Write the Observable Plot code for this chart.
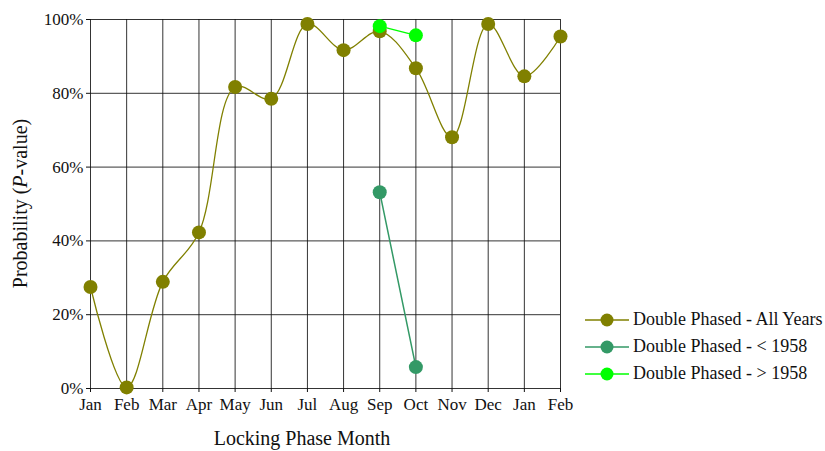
<!DOCTYPE html>
<html>
<head>
<meta charset="utf-8">
<script src="https://cdn.jsdelivr.net/npm/d3@7"></script>
<script src="https://cdn.jsdelivr.net/npm/@observablehq/plot@0.6"></script>
<style>
  html, body { margin: 0; padding: 0; background: #fff; }
  #wrap { position: relative; width: 825px; height: 451px; font-family: "Liberation Serif", "DejaVu Serif", serif; }
  #legend { position: absolute; left: 585px; top: 306px; font-size: 18px; color: #111; }
  .row { display: flex; align-items: center; height: 27px; }
  .row svg { margin-right: 4px; }
  #ylab { position: absolute; left: 20px; top: 192px; transform: translate(-50%, 0) rotate(-90deg); transform-origin: center; white-space: nowrap; font-size: 20px; color: #111; }
  #xlab { position: absolute; left: 302px; top: 427px; transform: translateX(-50%); font-size: 20px; color: #111; white-space: nowrap; }
</style>
</head>
<body>
<div id="wrap"></div>
<script>
// Locking-phase months (Jan..Feb, wrapping past December)
const months = ["Jan","Feb","Mar","Apr","May","Jun","Jul","Aug","Sep","Oct","Nov","Dec","Jan","Feb"];

// Double phased, all years (probability, %)
const allYears = [27.5, 0.3, 28.9, 42.3, 81.7, 78.5, 98.8, 91.7, 96.8, 86.8, 68.1, 98.8, 84.6, 95.4];

// Double phased, before 1958 (Sep, Oct)
const before1958Idx = [8, 9];
const before1958 = [53.2, 5.8];

// Double phased, after 1958 (Sep, Oct)
const after1958Idx = [8, 9];
const after1958 = [98.2, 95.7];

const yTicks = [0, 20, 40, 60, 80, 100];

const colors = { all: "#808000", before: "#339966", after: "#00ff00" };

const allData = allYears.map((v, i) => ({ i, v }));
const beforeData = before1958.map((v, k) => ({ i: before1958Idx[k], v }));
const afterData = after1958.map((v, k) => ({ i: after1958Idx[k], v }));

const chart = Plot.plot({
  width: 825,
  height: 451,
  marginLeft: 90,
  marginRight: 265,
  marginTop: 19,
  marginBottom: 63,
  style: { fontFamily: "Liberation Serif, DejaVu Serif, serif", fontSize: "17px", color: "#111", background: "transparent" },
  x: { domain: [0, months.length - 1], label: null },
  y: { domain: [0, 100], label: null },
  marks: [
    Plot.gridX(d3.range(months.length), { x: d => d, stroke: "#111", strokeOpacity: 0.85, strokeWidth: 1 }),
    Plot.gridY(yTicks, { y: d => d, stroke: "#111", strokeOpacity: 0.85, strokeWidth: 1 }),
    Plot.axisX({ ticks: d3.range(months.length), tickFormat: i => months[i], tickSize: 4, tickPadding: 5, label: null, fontSize: 17 }),
    Plot.axisY({ ticks: yTicks, tickFormat: d => d + "%", tickSize: 4, tickPadding: 3, label: null, fontSize: 17 }),
    Plot.lineY(allData, { x: "i", y: "v", stroke: colors.all, strokeWidth: 1.3, curve: "catmull-rom" }),
    Plot.dot(allData, { x: "i", y: "v", r: 7, fill: colors.all }),
    Plot.lineY(beforeData, { x: "i", y: "v", stroke: colors.before, strokeWidth: 1.5 }),
    Plot.dot(beforeData, { x: "i", y: "v", r: 7, fill: colors.before }),
    Plot.lineY(afterData, { x: "i", y: "v", stroke: colors.after, strokeWidth: 1.5 }),
    Plot.dot(afterData, { x: "i", y: "v", r: 7, fill: colors.after })
  ]
});

const wrap = document.getElementById("wrap");
wrap.appendChild(chart);

const ylab = document.createElement("div");
ylab.id = "ylab";
ylab.innerHTML = "Probability (<i>P</i>-value)";
wrap.appendChild(ylab);

const xlab = document.createElement("div");
xlab.id = "xlab";
xlab.textContent = "Locking Phase Month";
wrap.appendChild(xlab);

const series = [
  ["Double Phased - All Years", colors.all],
  ["Double Phased - < 1958", colors.before],
  ["Double Phased - > 1958", colors.after]
];
const legend = document.createElement("div");
legend.id = "legend";
for (const [name, c] of series) {
  const row = document.createElement("div");
  row.className = "row";
  row.innerHTML = `<svg width="44" height="16"><line x1="0" y1="8" x2="44" y2="8" stroke="${c}" stroke-width="1.5"/><circle cx="22" cy="8" r="6.5" fill="${c}"/></svg>`;
  const t = document.createElement("span");
  t.textContent = name;
  row.appendChild(t);
  legend.appendChild(row);
}
wrap.appendChild(legend);
</script>
</body>
</html>
